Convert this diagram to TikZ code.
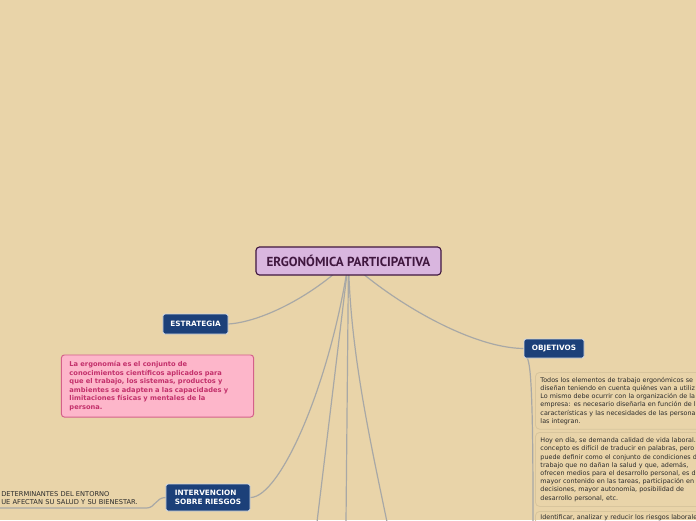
\documentclass[tikz,border=0pt]{standalone}
\usepackage{fontspec}
\setmainfont{DejaVu Sans}
\newfontfamily\titlefont{PT Sans}
\usetikzlibrary{positioning, calc}
\definecolor{paperbg}{HTML}{E9D4A9}
\definecolor{linkgray}{HTML}{A8A8A6}
\definecolor{rootfill}{HTML}{D9B6DF}
\definecolor{rootline}{HTML}{40173F}
\definecolor{topicblue}{HTML}{1C4079}
\definecolor{notefill}{HTML}{FDB6CA}
\definecolor{noteline}{HTML}{D4608A}
\definecolor{notetext}{HTML}{C3306B}
\definecolor{plainline}{HTML}{D8C59D}
\definecolor{bodytext}{HTML}{2B2B2B}
\pgfdeclarelayer{paper}
\pgfdeclarelayer{links}
\pgfsetlayers{paper,links,main}

\begin{document}
\begin{tikzpicture}[x=0.025cm, y=-0.025cm,
  root/.style={rectangle, rounded corners=2.5pt, draw=rootline, line width=0.8pt, fill=rootfill, text=rootline, minimum width=4.625cm, minimum height=0.7cm, font=\titlefont\bfseries\fontsize{9.3}{10}\selectfont},
  topic/.style={rectangle, rounded corners=1.5pt, draw=white!80!topicblue, line width=0.6pt, fill=topicblue, text=white, inner sep=0pt, font=\bfseries\fontsize{5.2}{6.2}\selectfont},
  note/.style={rectangle, rounded corners=2pt, draw=noteline, line width=0.7pt, fill=notefill, text=notetext, text width=4.4cm, inner xsep=5.7pt, minimum height=1.55cm, align=left, font=\bfseries\fontsize{4.75}{6}\selectfont},
  subbox/.style={rectangle, rounded corners=3pt, draw=plainline, line width=0.6pt, text=bodytext, anchor=north west, text width=4.4cm, inner xsep=3.6pt, align=left, font=\fontsize{4.55}{5.83}\selectfont},
  link/.style={draw=linkgray, line width=0.85pt}
]
\useasboundingbox (0,0) rectangle (696,520);
\begin{pgfonlayer}{paper}
\fill[paperbg] (0,0) rectangle (696,520);
\end{pgfonlayer}
\node[root] (ergo) at (348.5,261) {ERGONÓMICA PARTICIPATIVA};
\node[topic, minimum width=1.625cm, minimum height=0.5cm] (estrategia) at (195.5,324) {ESTRATEGIA};
\node[note] (nota) at (157.5,386) {La ergonomía es el conjunto de\\conocimientos científicos aplicados para\\que el trabajo, los sistemas, productos y\\ambientes se adapten a las capacidades y\\limitaciones físicas y mentales de la\\persona.};
\node[topic, minimum width=2.1cm, minimum height=0.675cm, align=left] (intervencion) at (208,497.5) {INTERVENCION\\SOBRE RIESGOS};
\node[anchor=south west, inner xsep=0pt, inner ysep=2.5pt, text width=3.625cm, align=left, text=bodytext, font=\fontsize{4.75}{5.7}\selectfont] (entorno) at (1,508) {DETERMINANTES DEL ENTORNO\\UE AFECTAN SU SALUD Y SU BIENESTAR.};
\node[topic, minimum width=1.5cm, minimum height=0.475cm] (objetivos) at (554,348.5) {OBJETIVOS};
\node[subbox, minimum height=1.4cm] (obj1) at (535,372) {Todos los elementos de trabajo ergonómicos se\\diseñan teniendo en cuenta quiénes van a utiliz\\Lo mismo debe ocurrir con la organización de la\\empresa: es necesario diseñarla en función de l\\características y las necesidades de las persona\\las integran.};
\node[subbox, minimum height=1.85cm] (obj2) at (535,432) {Hoy en día, se demanda calidad de vida laboral.\\concepto es difícil de traducir en palabras, pero\\puede definir como el conjunto de condiciones d\\trabajo que no dañan la salud y que, además,\\ofrecen medios para el desarrollo personal, es d\\mayor contenido en las tareas, participación en\\decisiones, mayor autonomía, posibilidad de\\desarrollo personal, etc.};
\node[subbox, inner ysep=2.5pt] (obj3) at (535,511) {Identificar, analizar y reducir los riesgos laborale};
\coordinate (ramaA) at (317,522);
\coordinate (ramaB) at (346,522);
\coordinate (ramaC) at (387,522);
\begin{pgfonlayer}{links}
\draw[link] (ergo.center) .. controls (310,298) and (260,322) .. (estrategia.east);
\draw[link] (ergo.center) .. controls (390,300) and (470,348) .. (objetivos.west);
\draw[link] (ergo.center) .. controls (330,385) and (280,497.5) .. (intervencion.east);
\draw[link] (ergo.center) -- (ramaA);
\draw[link] (ergo.center) -- (ramaB);
\draw[link] (ergo.center) .. controls (350,350) and (370,440) .. (ramaC);
\draw[link] (intervencion.west) .. controls (156,497.5) and (155,508) .. (entorno.south east) -- (entorno.south west) -- ++(-2,0);
\draw[link] ($(objetivos.south west)+(4,0)$) .. controls (530,366) and (533,380) .. ($(obj3.north west)+(-2,0)$) -- ++(0,12);
\end{pgfonlayer}
\end{tikzpicture}
\end{document}
